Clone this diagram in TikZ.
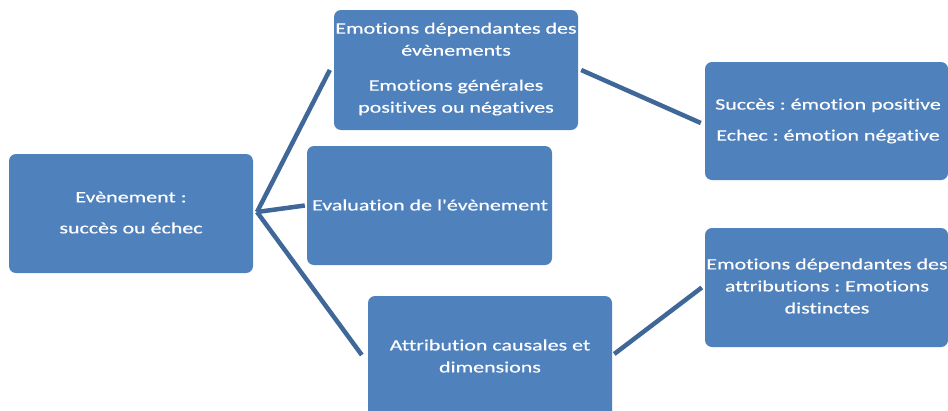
\documentclass[tikz,border=0pt]{standalone}
\usepackage{fontspec}
\newfontfamily\calib[FakeStretch=1.38,FakeBold=0.4,Ligatures=NoCommon]{Carlito}
\setmainfont{Carlito}
\definecolor{boxblue}{HTML}{4F81BD}
\definecolor{lineblue}{HTML}{3F6797}
\frenchspacing
\begin{document}
\begin{tikzpicture}[x=1pt,y=-1pt,
  box/.style={draw=none,fill=boxblue,rounded corners=7pt,inner sep=0pt},
  txt/.style={text=white,align=center,inner sep=0pt,font=\calib\fontsize{15.9}{22}\selectfont},
  conn/.style={draw=lineblue,line width=4.5pt}]
\useasboundingbox (0,0) rectangle (948,410);
\clip (0,0) rectangle (948,410);
% boxes
\node[box,minimum width=244pt,minimum height=119pt] (ev) at (131,213.5) {};
\node[box,minimum width=244pt,minimum height=120pt] (top) at (456,70) {};
\node[box,minimum width=245pt,minimum height=119pt] (eval) at (429.5,205.5) {};
\node[box,minimum width=244pt,minimum height=130pt] (attr) at (490,361) {};
\node[box,minimum width=243pt,minimum height=118pt] (succ) at (826.5,121) {};
\node[box,minimum width=243pt,minimum height=119pt] (emo) at (826.5,287.5) {};
% texts
\node[txt] (tev) at (131,212.5) {Evènement :\\[9pt] succès ou échec};
\node[txt] (ttop) at (456,69) {Emotions dépendantes des\\ évènements\\[13pt] Emotions générales\\ positives ou négatives};
\node[txt] (teval) at (430,205) {Evaluation de l'évènement};
\node[txt] (tattr) at (490,356) {Attribution causales et\\ dimensions};
\node[txt] (tsucc) at (828,121) {Succès : émotion positive\\[9pt] Echec : émotion négative};
\node[txt] (temo) at (827,286) {Emotions dépendantes des\\ attributions : Emotions\\ distinctes};
% connectors
\coordinate (j) at (257,212);
\draw[conn] (j) -- ([xshift=-4pt]top.west);
\draw[conn] (j) -- ([xshift=-2pt]eval.west);
\draw[conn] (j) -- ([xshift=-6pt]attr.west |- 0,355);
\draw[conn] ([xshift=3pt]top.east) -- ([xshift=-4pt,yshift=-2pt]succ.west);
\draw[conn] ([xshift=2pt]attr.east |- 0,354) -- ([xshift=-3pt]emo.west);
\end{tikzpicture}
\end{document}
